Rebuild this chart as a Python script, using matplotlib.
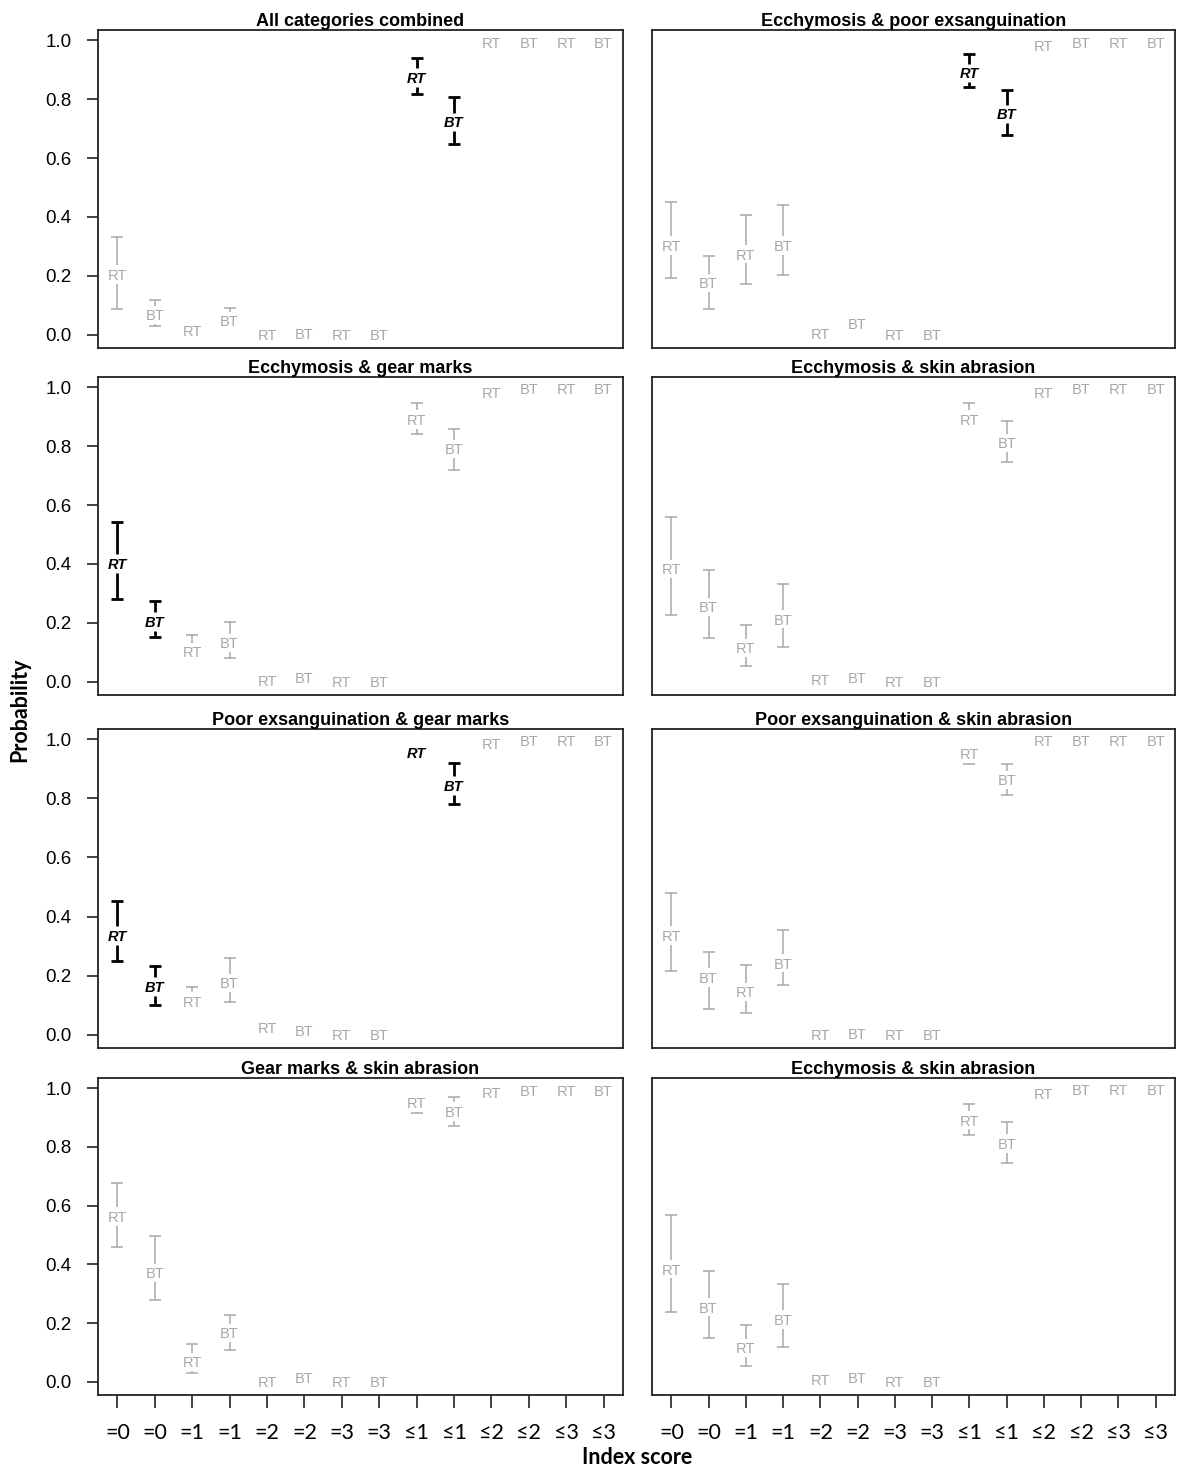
import matplotlib
matplotlib.use('Agg')
import matplotlib.pyplot as plt
from matplotlib import font_manager as fm
from matplotlib.transforms import offset_copy


def has_font(name):
    try:
        fm.findfont(fm.FontProperties(family=name), fallback_to_default=False)
        return True
    except Exception:
        return False


R_FONT = 'Liberation Sans' if has_font('Liberation Sans') else 'DejaVu Sans'
C_FONT = 'Lato' if has_font('Lato') else 'DejaVu Sans'

# ---------------- data ----------------
x_tick_labels = ['=0', '=0', '=1', '=1', '=2', '=2', '=3', '=3',
                 '≤1', '≤1', '≤2', '≤2', '≤3', '≤3']
point_labels = ['RT', 'BT'] * 7

titles = ['All categories combined',
          'Ecchymosis & poor exsanguination',
          'Ecchymosis & gear marks',
          'Ecchymosis & skin abrasion',
          'Poor exsanguination & gear marks',
          'Poor exsanguination & skin abrasion',
          'Gear marks & skin abrasion',
          'Ecchymosis & skin abrasion']

est_all = [0.205, 0.067, 0.014, 0.046, 0.0, 0.005, 0.0, 0.0, 0.874, 0.723, 0.992, 0.992, 0.992, 0.992]
lo_all = [0.087, 0.030, 0.014, 0.030, 0.0, 0.005, 0.0, 0.0, 0.818, 0.648, 0.992, 0.992, 0.992, 0.992]
hi_all = [0.331, 0.118, 0.014, 0.091, 0.0, 0.005, 0.0, 0.0, 0.941, 0.808, 0.992, 0.992, 0.992, 0.992]
sig_all = [9, 10]

est_ep = [0.303, 0.175, 0.273, 0.303, 0.005, 0.036, 0.0, 0.0, 0.889, 0.749, 0.983, 0.992, 0.992, 0.992]
lo_ep = [0.192, 0.087, 0.171, 0.202, 0.005, 0.036, 0.0, 0.0, 0.840, 0.679, 0.983, 0.992, 0.992, 0.992]
hi_ep = [0.451, 0.267, 0.408, 0.440, 0.005, 0.036, 0.0, 0.0, 0.952, 0.831, 0.983, 0.992, 0.992, 0.992]
sig_ep = [9, 10]

est_eg = [0.402, 0.205, 0.101, 0.132, 0.003, 0.015, 0.0, 0.0, 0.891, 0.791, 0.983, 0.994, 0.994, 0.994]
lo_eg = [0.282, 0.152, 0.073, 0.079, 0.003, 0.015, 0.0, 0.0, 0.840, 0.719, 0.983, 0.994, 0.994, 0.994]
hi_eg = [0.541, 0.273, 0.160, 0.203, 0.003, 0.015, 0.0, 0.0, 0.947, 0.859, 0.983, 0.994, 0.994, 0.994]
sig_eg = [1, 2]

est_es = [0.383, 0.254, 0.115, 0.212, 0.006, 0.015, 0.0, 0.0, 0.891, 0.812, 0.983, 0.994, 0.994, 0.994]
lo_es = [0.228, 0.150, 0.053, 0.118, 0.006, 0.015, 0.0, 0.0, 0.875, 0.746, 0.983, 0.994, 0.994, 0.994]
hi_es = [0.558, 0.378, 0.192, 0.333, 0.006, 0.015, 0.0, 0.0, 0.947, 0.885, 0.983, 0.994, 0.994, 0.994]
sig_es = []

est_pg = [0.336, 0.163, 0.112, 0.175, 0.025, 0.014, 0.0, 0.0, 0.954, 0.844, 0.985, 0.994, 0.994, 0.994]
lo_pg = [0.251, 0.101, 0.084, 0.110, 0.025, 0.014, 0.0, 0.0, 0.935, 0.782, 0.985, 0.994, 0.994, 0.994]
hi_pg = [0.454, 0.232, 0.160, 0.259, 0.025, 0.014, 0.0, 0.0, 0.975, 0.920, 0.985, 0.994, 0.994, 0.994]
sig_pg = [1, 2, 9, 10]

est_ps = [0.336, 0.194, 0.144, 0.242, 0.0, 0.002, 0.0, 0.0, 0.951, 0.863, 0.994, 0.994, 0.994, 0.994]
lo_ps = [0.217, 0.087, 0.072, 0.169, 0.0, 0.002, 0.0, 0.0, 0.918, 0.810, 0.994, 0.994, 0.994, 0.994]
hi_ps = [0.480, 0.279, 0.237, 0.356, 0.0, 0.002, 0.0, 0.0, 0.975, 0.915, 0.994, 0.994, 0.994, 0.994]
sig_ps = []

est_gs = [0.563, 0.372, 0.068, 0.166, 0.0, 0.013, 0.0, 0.0, 0.950, 0.921, 0.984, 0.992, 0.992, 0.992]
lo_gs = [0.460, 0.279, 0.031, 0.109, 0.0, 0.013, 0.0, 0.0, 0.916, 0.870, 0.984, 0.992, 0.992, 0.992]
hi_gs = [0.678, 0.498, 0.130, 0.228, 0.0, 0.013, 0.0, 0.0, 0.970, 0.969, 0.984, 0.992, 0.992, 0.992]
sig_gs = []

est_es2 = [0.383, 0.254, 0.115, 0.212, 0.006, 0.015, 0.0, 0.0, 0.891, 0.812, 0.983, 0.994, 0.994, 0.994]
lo_es2 = [0.239, 0.150, 0.053, 0.118, 0.006, 0.015, 0.0, 0.0, 0.840, 0.746, 0.983, 0.994, 0.994, 0.994]
hi_es2 = [0.569, 0.378, 0.192, 0.333, 0.006, 0.015, 0.0, 0.0, 0.947, 0.885, 0.983, 0.994, 0.994, 0.994]
sig_es2 = []

panels = [(est_all, lo_all, hi_all, sig_all),
          (est_ep, lo_ep, hi_ep, sig_ep),
          (est_eg, lo_eg, hi_eg, sig_eg),
          (est_es, lo_es, hi_es, sig_es),
          (est_pg, lo_pg, hi_pg, sig_pg),
          (est_ps, lo_ps, hi_ps, sig_ps),
          (est_gs, lo_gs, hi_gs, sig_gs),
          (est_es2, lo_es2, hi_es2, sig_es2)]

# ---------------- layout ----------------
W, H = 1178, 1470
fig = plt.figure(figsize=(W / 100, H / 100), dpi=100)

col_x = [(98, 623), (652, 1175)]
row_y = [(30, 348), (377, 695), (729, 1048), (1078, 1395)]

GRAY = '#a8a8a8'
GAP = 0.031   # half gap around text in data units
CAP = 0.16    # half cap width

xs = list(range(1, 15))

for i, (est, lo, hi, sig) in enumerate(panels):
    r, c = divmod(i, 2)
    x0, x1 = col_x[c]
    y0, y1 = row_y[r]
    ax = fig.add_axes([x0 / W, 1 - y1 / H, (x1 - x0) / W, (y1 - y0) / H])
    ax.set_xlim(0.48, 14.52)
    ax.set_ylim(-0.045, 1.035)
    for s in ax.spines.values():
        s.set_linewidth(1.3)
        s.set_color('#222222')

    for k, x in enumerate(xs):
        e, l, h = est[k], lo[k], hi[k]
        is_sig = (k + 1) in sig
        col = 'black' if is_sig else GRAY
        lw = 2.0 if is_sig else 1.1
        if h > e + GAP:
            ax.plot([x, x], [e + GAP, h], color=col, lw=lw, solid_capstyle='butt')
            ax.plot([x - CAP, x + CAP], [h, h], color=col, lw=lw, solid_capstyle='butt')
        if l < e - GAP:
            ax.plot([x, x], [l, e - GAP], color=col, lw=lw, solid_capstyle='butt')
            ax.plot([x - CAP, x + CAP], [l, l], color=col, lw=lw, solid_capstyle='butt')
        tr = offset_copy(ax.transData, fig=fig, x=0, y=-3.8, units='points')
        ax.text(x, e, point_labels[k], transform=tr, ha='center', va='baseline',
                fontsize=10.5, color=col, family=R_FONT,
                fontweight='bold' if is_sig else 'normal',
                fontstyle='italic' if is_sig else 'normal')

    ax.set_title(titles[i], fontsize=13, fontweight='bold', family=R_FONT, pad=3)

    if c == 0:
        ax.set_yticks([0.0, 0.2, 0.4, 0.6, 0.8, 1.0])
        ax.set_yticklabels(['0.0', '0.2', '0.4', '0.6', '0.8', '1.0'],
                           fontsize=13.5, family=R_FONT)
        ax.tick_params(axis='y', length=8, width=1.2, pad=11, color='#222222')
    else:
        ax.set_yticks([])

    if r == 3:
        ax.set_xticks(xs)
        ax.set_xticklabels(x_tick_labels, fontsize=15.5, family=[C_FONT, 'DejaVu Sans'])
        ax.tick_params(axis='x', length=9, width=1.2, pad=11, color='#222222')
    else:
        ax.set_xticks([])

fig.text(20 / W, 1 - 710 / H, 'Probability', rotation=90, ha='center', va='center',
         fontsize=15.5, fontweight='bold', family=[C_FONT, 'DejaVu Sans'])
fig.text(637 / W, 1 - 1457 / H, 'Index score', ha='center', va='center',
         fontsize=15.5, fontweight='bold', family=[C_FONT, 'DejaVu Sans'])

fig.savefig('out.png', dpi=100, facecolor='white')
